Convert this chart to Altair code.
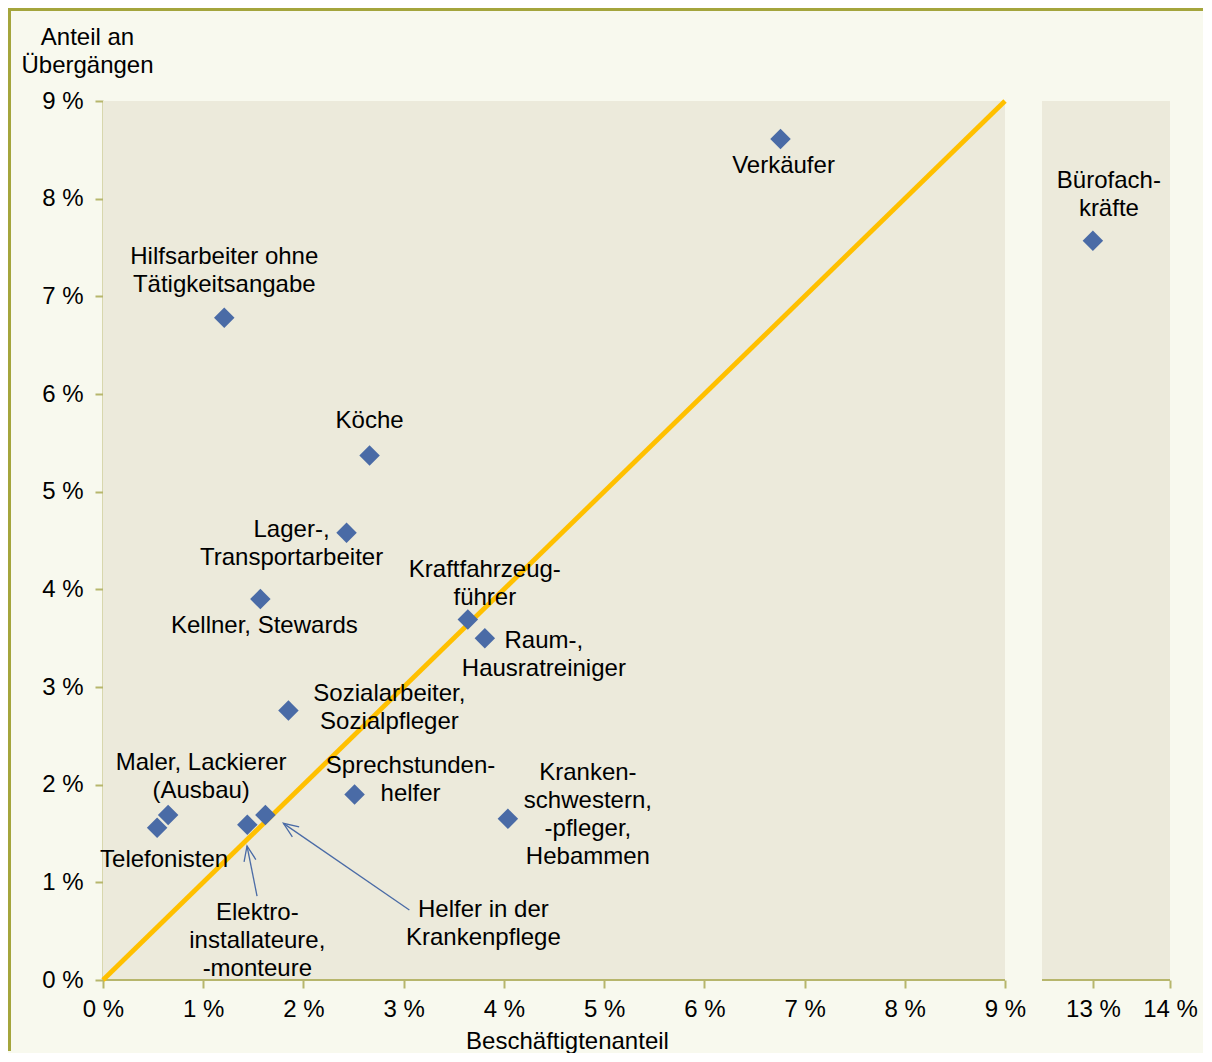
import altair as alt
import pandas as pd

# ---- data ----
labels = [
    "Verkäufer", "Bürofach-\nkräfte", "Hilfsarbeiter ohne\nTätigkeitsangabe", "Köche",
    "Lager-,\nTransportarbeiter", "Kellner, Stewards", "Kraftfahrzeug-\nführer",
    "Raum-,\nHausratreiniger", "Sozialarbeiter,\nSozialpfleger", "Sprechstunden-\nhelfer",
    "Kranken-\nschwestern,\n-pfleger,\nHebammen", "Maler, Lackierer\n(Ausbau)", "Telefonisten",
    "Elektro-\ninstallateure,\n-monteure", "Helfer in der\nKrankenpflege",
]
x_share = [6.76, 13.0, 1.21, 2.66, 2.43, 1.57, 3.64, 3.81, 1.85, 2.51, 4.04, 0.65, 0.54, 1.44, 1.62]
y_share = [8.61, 7.57, 6.78, 5.37, 4.58, 3.90, 3.69, 3.50, 2.76, 1.90, 1.65, 1.69, 1.56, 1.59, 1.69]

x_ticks = [0, 1, 2, 3, 4, 5, 6, 7, 8, 9, 13, 14]
y_ticks = [0, 1, 2, 3, 4, 5, 6, 7, 8, 9]

panel_x0 = [0, 12.34]
panel_x1 = [9, 14]
panel_y0 = [0, 0]
panel_y1 = [9, 9]

diag_x = [0, 9]
diag_y = [0, 9]

arrow_x0 = [1.537, 3.057]
arrow_y0 = [0.86, 0.717]
arrow_x1 = [1.437, 1.80]
arrow_y1 = [1.372, 1.604]

# ---- styles ----
FONT = "Liberation Sans"
FS = 24
PAGE_BG = "#F8F9EE"
PLOT_BG = "#ECEADB"
AXIS_C = "#B7B66C"
BORDER_C = "#A4A53C"
PT_C = "#4A6BA6"
GOLD = "#FFC000"

# label offsets (dx, dy) in pixels (dy = centre of the first text line), one per label
offsets = [(3, 27), (16, -60), (0, -61), (0, -35), (-55, -3), (4, 27), (17, -50),
           (59, 3), (101, -16), (56, -28), (80, -46), (33, -52), (7, 32),
           (10, 88), (218, 95)]
arrow_angles = [348.7, 304.5]

W, H = 1067, 879

pts = pd.DataFrame({"name": labels, "x": x_share, "y": y_share})
panels = pd.DataFrame({"x0": panel_x0, "x1": panel_x1, "y0": panel_y0, "y1": panel_y1})
diag = pd.DataFrame({"x": diag_x, "y": diag_y})
arrows = pd.DataFrame({"x0": arrow_x0, "y0": arrow_y0, "x1": arrow_x1, "y1": arrow_y1})

xs = alt.Scale(domain=[0, 9, 12.34, 14], range=[0, 902, 939, W], nice=False, zero=False)
ys = alt.Scale(domain=[0, 9], nice=False, zero=False)

x_axis = alt.Axis(
    values=x_ticks, domain=False, grid=False, tickColor=AXIS_C, tickSize=8, tickWidth=2,
    labelExpr="datum.value + ' %'", labelFont=FONT, labelFontSize=FS, labelColor="#000000",
    labelPadding=9, labelOverlap=False, labelFlush=False, labelAlign="center",
    title="Beschäftigtenanteil", titleFont=FONT,
    titleFontSize=FS, titleFontWeight="normal", titleColor="#000000", titleX=464, titleY=68,
    titleAlign="center", titleBaseline="alphabetic",
)
y_axis = alt.Axis(
    values=y_ticks, grid=False, domainColor=AXIS_C, domainWidth=2, tickColor=AXIS_C,
    tickSize=8, tickWidth=2, labelExpr="datum.value + ' %'", labelFont=FONT, labelFontSize=FS,
    labelColor="#000000", labelPadding=12, labelOverlap=False, labelFlush=False,
    title=["Anteil an", "Übergängen"], titleFont=FONT, titleFontSize=FS,
    titleFontWeight="normal", titleColor="#000000", titleAngle=0, titleAlign="center",
    titleBaseline="alphabetic", titleX=-16, titleY=-57, titleLineHeight=28,
)


def X(field):
    return alt.X(field, scale=xs, axis=x_axis)


def Y(field):
    return alt.Y(field, scale=ys, axis=y_axis)


bg = alt.Chart(panels).mark_rect(color=PLOT_BG).encode(
    x=X("x0:Q"), x2="x1:Q", y=Y("y0:Q"), y2="y1:Q",
)
xline = alt.Chart(panels).mark_rule(color=AXIS_C, strokeWidth=2).encode(
    x=X("x0:Q"), x2="x1:Q", y=Y("y0:Q"),
)
diag_line = alt.Chart(diag).mark_line(color=GOLD, strokeWidth=4.8).encode(
    x=X("x:Q"), y=Y("y:Q"),
)
points = alt.Chart(pts).mark_point(shape="diamond", filled=True, size=420, color=PT_C, opacity=1).encode(
    x=X("x:Q"), y=Y("y:Q"),
)
arrow_lines = alt.Chart(arrows).mark_rule(color=PT_C, strokeWidth=1.3).encode(
    x=X("x0:Q"), y=Y("y0:Q"), x2="x1:Q", y2="y1:Q",
)
heads = []
for i, ang in enumerate(arrow_angles):
    heads.append(
        alt.Chart(arrows.iloc[[i]]).mark_point(
            shape="M-0.4,1L0,0L0.4,1", filled=False, size=900, color=PT_C,
            strokeWidth=1.3, angle=ang, opacity=1,
        ).encode(x=X("x1:Q"), y=Y("y1:Q"))
    )

texts = []
for i, (dx, dy) in enumerate(offsets):
    texts.append(
        alt.Chart(pts.iloc[[i]]).mark_text(
            font=FONT, fontSize=FS, color="#000000", align="center", baseline="middle",
            lineBreak="\n", lineHeight=28, dx=dx, dy=dy,
        ).encode(x=X("x:Q"), y=Y("y:Q"), text="name:N")
    )

# outer frame (top and left edges as thin filled bars; the others run off the picture)
border_top = alt.Chart(panels).mark_rect(color=BORDER_C).encode(
    x=alt.value(-95), x2=alt.value(1100), y=alt.value(-93), y2=alt.value(-90)
)
border_left = alt.Chart(panels).mark_rect(color=BORDER_C).encode(
    x=alt.value(-95), x2=alt.value(-92), y=alt.value(-93), y2=alt.value(950)
)

chart = alt.layer(
    bg, xline, diag_line, arrow_lines, *heads, points, *texts, border_top, border_left
).properties(
    width=W, height=H, padding=0, background=PAGE_BG
).configure_view(strokeOpacity=0)

chart.save("out.html", embed_options={"renderer": "svg", "actions": False})
